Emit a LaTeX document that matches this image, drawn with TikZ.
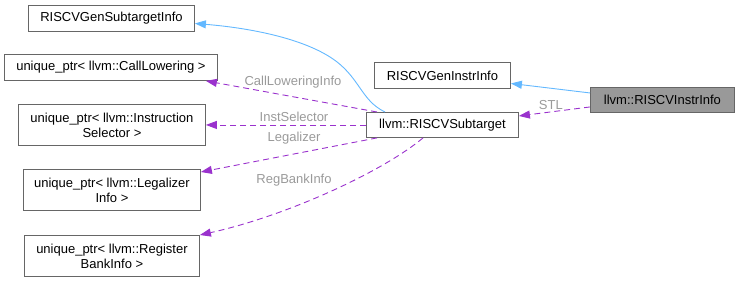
\documentclass[tikz,border=0pt]{standalone}
\usepackage{fontspec}
\setmainfont{Liberation Sans}
\usetikzlibrary{arrows.meta}
\definecolor{boxline}{HTML}{666666}
\definecolor{inhblue}{HTML}{63B8FF}
\definecolor{usepurple}{HTML}{9A32CD}
\definecolor{lblgray}{HTML}{9A9A9A}
\definecolor{hilite}{HTML}{999999}
\tikzset{
  cls/.style={draw=boxline, fill=white, line width=0.9pt, anchor=north west,
    inner sep=0pt, align=center, font=\fontsize{13}{15}\selectfont},
  inh/.style={draw=inhblue, line width=0.9pt,
    -{Triangle[length=11pt,width=8pt]}},
  usage/.style={draw=usepurple, line width=0.9pt, dash pattern=on 6pt off 4pt,
    -{Triangle[length=11pt,width=8pt]}},
  lbl/.style={text=lblgray, font=\fontsize{13}{15}\selectfont, inner sep=0pt}
}
\begin{document}
\begin{tikzpicture}[x=1pt,y=-1pt]
\useasboundingbox (0,0) rectangle (740,281);
% class boxes
\node[cls, minimum width=166pt, minimum height=26pt] (gensub) at (28,5) {RISCVGenSubtargetInfo};
\node[cls, minimum width=213pt, minimum height=26pt] (calllow) at (4,54) {unique\_ptr< llvm::CallLowering >};
\node[cls, minimum width=187pt, minimum height=41pt] (instsel) at (18,104) {unique\_ptr< llvm::Instruction\\Selector >};
\node[cls, minimum width=177pt, minimum height=41pt] (legal) at (23,169) {unique\_ptr< llvm::Legalizer\\Info >};
\node[cls, minimum width=175pt, minimum height=41pt] (regbank) at (24,235) {unique\_ptr< llvm::Register\\BankInfo >};
\node[cls, minimum width=136pt, minimum height=26pt] (geninstr) at (374,62) {RISCVGenInstrInfo};
\node[cls, minimum width=152pt, minimum height=25pt] (sub) at (366,112) {llvm::RISCVSubtarget};
\node[cls, fill=hilite, minimum width=144pt, minimum height=25pt] (instr) at (590,87) {llvm::RISCVInstrInfo};
% inheritance
\draw[inh] ([xshift=19pt]sub.north west) .. controls (360,100) and (360,76) .. (330,57)
  .. controls (300,38) and (250,28) .. ([yshift=-5pt]gensub.east);
\draw[inh] ([yshift=7pt]instr.west) -- ([yshift=-8pt]geninstr.east);
% usage relations
\draw[usage] ([yshift=-7pt]instr.west) -- node[lbl, above=2pt, pos=0.55] {STL} ([yshift=9pt]sub.east);
\draw[usage] ([xshift=11pt]sub.north west) -- ([xshift=-12pt]calllow.south east);
\node[lbl] (lcall) at (293,82) {CallLoweringInfo};
\draw[usage] (sub.west) -- (sub.west -| instsel.east);
\node[lbl] (linst) at (294,117) {InstSelector};
\draw[usage] ([xshift=11pt]sub.south west) -- ([yshift=-3pt]legal.north east);
\node[lbl] (lleg) at (294,138) {Legalizer};
\draw[usage] ([xshift=57pt]sub.south west) .. controls (385,170) and (290,215) .. (regbank.north east);
\node[lbl] (lreg) at (294,180) {RegBankInfo};
\end{tikzpicture}
\end{document}
